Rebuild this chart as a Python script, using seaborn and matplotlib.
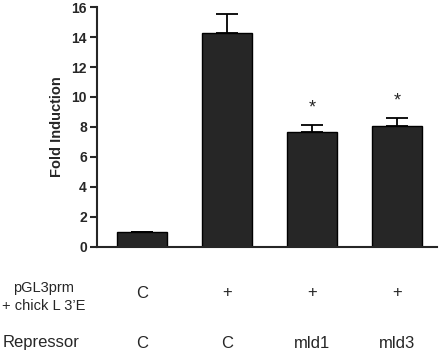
import numpy as np
import pandas as pd
import seaborn as sns
import matplotlib.pyplot as plt
import matplotlib.transforms as mtransforms

sns.set_style("ticks")
plt.rcParams['font.family'] = ['Liberation Sans', 'DejaVu Sans']

# data
groups = ["g1", "g2", "g3", "g4"]
fold = [1.0, 14.24, 7.67, 8.07]
sem = [0.0, 1.27, 0.45, 0.51]
signif = ["", "", "*", "*"]
row1_label = "pGL3prm\n+ chick L 3\u2019E"
row1 = ["C", "+", "+", "+"]
row2_label = "Repressor"
row2 = ["C", "C", "mld1", "mld3"]

df = pd.DataFrame({"group": groups, "fold": fold})

fig = plt.figure(figsize=(4.41, 3.57), dpi=100)
ax = fig.add_axes([0.219, 0.309, 0.772, 0.671])

sns.barplot(data=df, x="group", y="fold", color="#262626", edgecolor="black",
            linewidth=1, width=0.59, saturation=1, errorbar=None, ax=ax)

xs = np.arange(len(groups))
# upward-only error bars
ax.errorbar(xs, fold, yerr=[np.zeros(len(sem)), sem], fmt="none",
            ecolor="black", elinewidth=1.3, capsize=8, capthick=1.3)

for x, v, e, s in zip(xs, fold, sem, signif):
    if s:
        ax.text(x, v + e + 0.6, s, ha="center", va="bottom", fontsize=13)

ax.set_xlim(-0.533, 3.47)
ax.set_ylim(0, 16)
ax.set_yticks(range(0, 17, 2))
ax.set_xticks([])
ax.set_xlabel("")
ax.set_ylabel("Fold Induction", fontsize=10.5, fontweight="bold", labelpad=5)
for lab in ax.get_yticklabels():
    lab.set_fontweight("bold")
ax.tick_params(axis="y", labelsize=10, width=1.5, length=5, pad=2)
sns.despine(ax=ax)
ax.spines["left"].set_linewidth(1.5)
ax.spines["bottom"].set_linewidth(1.5)

# condition table below the plot
trans = mtransforms.blended_transform_factory(ax.transData, fig.transFigure)
fig.text(0.005, 1 - 297 / 357, row1_label, ha="left", va="center",
         multialignment="center", linespacing=1.35, fontsize=10.5)
fig.text(0.005, 1 - 343 / 357, row2_label, ha="left", va="center",
         fontsize=12)
for x, a, b in zip(xs, row1, row2):
    ax.text(x, 1 - 293 / 357, a, transform=trans, ha="center", va="center",
            fontsize=12)
    ax.text(x, 1 - 343 / 357, b, transform=trans, ha="center", va="center",
            fontsize=12)

fig.savefig("out.png", dpi=100)
